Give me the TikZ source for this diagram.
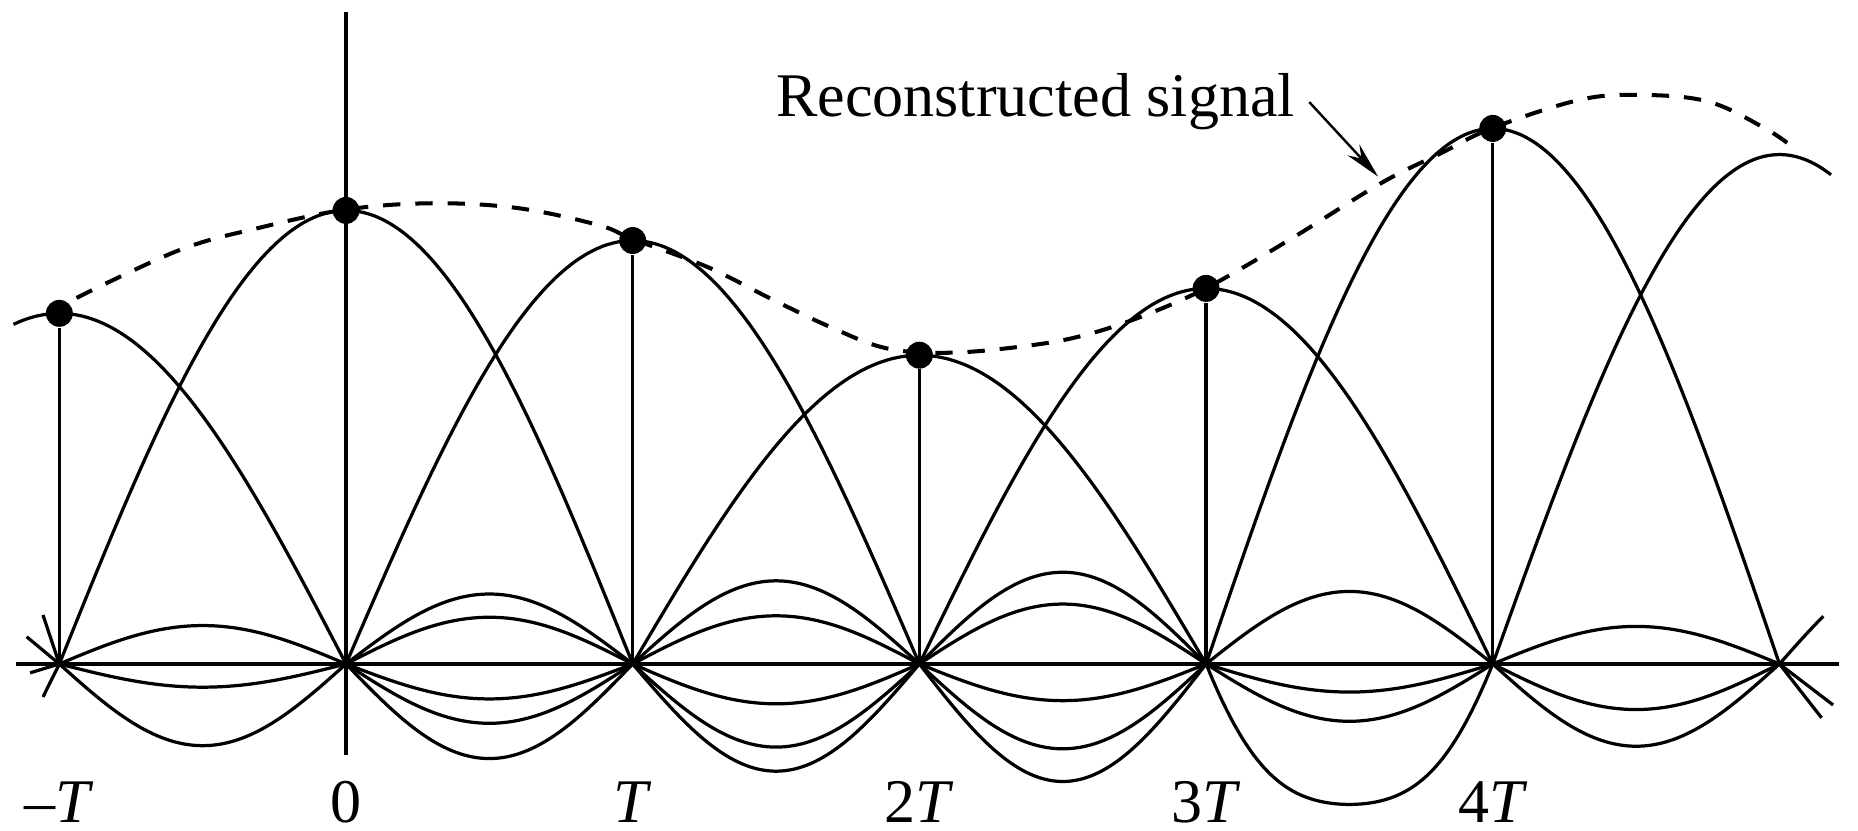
\documentclass[tikz,border=0pt]{standalone}
\usepackage{fontspec}
\setmainfont{Liberation Serif}
\usetikzlibrary{arrows.meta, positioning}

\begin{document}
\begin{tikzpicture}[
    x=2.5cm, y=2.5cm,
    >={Stealth[length=9pt, width=4pt]},
    wave/.style={line width=0.8pt, line join=round},
    recon/.style={line width=1pt, dash pattern=on 4.3pt off 3.7pt},
    sample/.style={circle, fill=black, inner sep=0pt, minimum size=0.235cm},
    axlabel/.style={font=\fontsize{15.4}{18}\selectfont, anchor=base},
    callout/.style={font=\fontsize{15.4}{18}\selectfont, anchor=base east}
  ]
  \useasboundingbox (-1.207,-0.582) rectangle (5.274,2.316);
  % axes
  \coordinate (left) at (-1.152,0);
  \coordinate (right) at (5.206,0);
  \coordinate (bot) at (0,-0.317);
  \coordinate (top) at (0,2.274);
  \draw[wave] (left) -- (right);
  \draw[wave] (bot) -- (top);
  % zero crossings
  \foreach \n/\nm in {-1/m, 0/0, 1/1, 2/2, 3/3, 4/4, 5/5}
    \coordinate (z\nm) at (\n,0);
  % main lobes
  \foreach \n/\a/\lo/\hi in {-1/1.223/-1.16/0, 0/1.582/-1/1, 1/1.477/0/2,
      2/1.077/1/3, 3/1.31/2/4, 4/1.868/3/5, 5/1.777/4/5.18}
    \draw[wave] plot[domain=\lo:\hi, samples=41, smooth]
      (\x, {\a*cos(90*(\x-(\n)))});
  % side lobes between the samples
  \foreach \k/\h in {-1/0.134, -1/-0.081, -1/-0.285,
      0/0.244, 0/0.163, 0/-0.122, 0/-0.207, 0/-0.33,
      1/0.29, 1/0.168, 1/-0.139, 1/-0.29, 1/-0.374,
      2/0.32, 2/0.209, 2/-0.128, 2/-0.296, 2/-0.41,
      3/0.253, 3/-0.098, 3/-0.2,
      4/0.131, 4/-0.159, 4/-0.287}
    {
    \pgfmathsetmacro\e{\k+1}
    \draw[wave] plot[domain=\k:\e, samples=31, smooth]
      (\x, {\h*sin(180*(\x-(\k)))});
    }
  \draw[wave] plot[domain=3:4, samples=41, smooth]
    (\x, {-0.49*sin(180*(\x-3))*(1.6-0.6*sin(180*(\x-3)))});
  % stubs past -T and 5T
  \foreach \ex/\ey in {-1.057/0.171, -1.114/0.095, -1.102/-0.031, -1.057/-0.115}
    \draw[wave] (zm) -- (\ex,\ey);
  \foreach \ex/\ey in {5.187/-0.143, 5.147/-0.188}
    \draw[wave] (z5) -- (\ex,\ey);
  \draw[wave] plot[domain=5:5.153, samples=15, smooth]
    (\x, {0.36*sin(180*(\x-5))});
  % samples
  \foreach \n/\a/\nm in {-1/1.223/m, 0/1.582/0, 1/1.477/1, 2/1.077/2,
      3/1.31/3, 4/1.868/4}
    {
    \node[sample] (s\nm) at (\n,\a) {};
    \draw[wave] (z\nm) -- (s\nm);
    }
  % reconstructed signal
  \draw[recon] plot[smooth, tension=0.6] coordinates {
    (-0.94,1.277) (-0.58,1.444) (-0.3,1.522) (0,1.585) (0.3,1.607)
    (0.6,1.59) (0.88,1.531) (1.0,1.482) (1.26,1.385) (1.48,1.275)
    (1.69,1.175) (1.89,1.10) (2.12,1.086) (2.4,1.113) (2.58,1.148)
    (2.77,1.21) (3.0,1.311) (3.29,1.479) (3.61,1.677) (3.82,1.782)
    (4.0,1.87) (4.3,1.967) (4.51,1.985) (4.75,1.962) (4.95,1.868)
    (5.05,1.80)};
  % axis labels
  \foreach \n/\t/\nm in {-1/{\textit{–T}}/m, 0/0/0, 1/\textit{T}/1,
      2/2\textit{T}/2, 3/3\textit{T}/3, 4/4\textit{T}/4}
    \node[axlabel] (l\nm) at (\n,-0.553) {\t};
  % callout
  \node[callout] (rs) at (3.36,1.908) {Reconstructed signal};
  \coordinate (tip) at (3.6,1.70);
  \draw[->, line width=0.6pt] (rs.east) -- (tip);
\end{tikzpicture}
\end{document}
